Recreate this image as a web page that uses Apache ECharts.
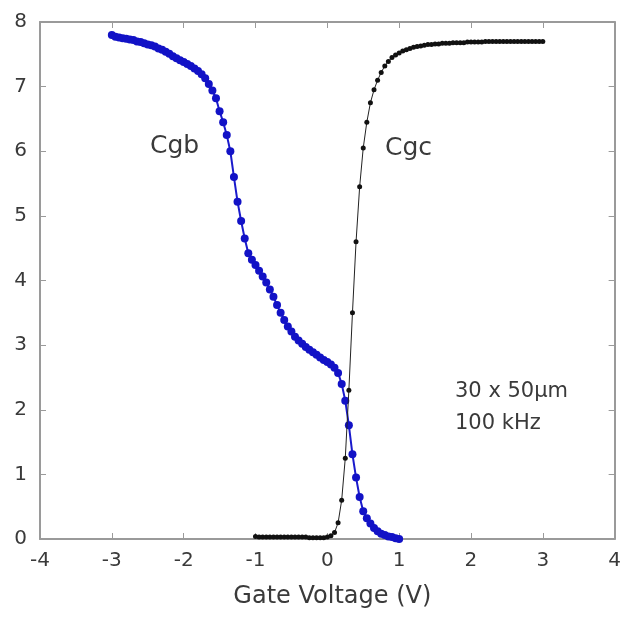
<!DOCTYPE html>
<html>
<head>
<meta charset="utf-8">
<script src="https://cdn.jsdelivr.net/npm/echarts@6/dist/echarts.min.js"></script>
<style>html,body{margin:0;padding:0;background:#fff;}#c{width:624px;height:617px;}</style>
</head>
<body>
<div id="c"></div>
<script>
var xTicks = [-4, -3, -2, -1, 0, 1, 2, 3, 4];
var yTicks = [0, 1, 2, 3, 4, 5, 6, 7, 8];
var cgbVoltage = [-3.00,-2.95,-2.90,-2.85,-2.80,-2.75,-2.70,-2.65,-2.60,-2.55,-2.50,-2.45,-2.40,-2.35,-2.30,-2.25,-2.20,-2.15,-2.10,-2.05,-2.00,-1.95,-1.90,-1.85,-1.80,-1.75,-1.70,-1.65,-1.60,-1.55,-1.50,-1.45,-1.40,-1.35,-1.30,-1.25,-1.20,-1.15,-1.10,-1.05,-1.00,-0.95,-0.90,-0.85,-0.80,-0.75,-0.70,-0.65,-0.60,-0.55,-0.50,-0.45,-0.40,-0.35,-0.30,-0.25,-0.20,-0.15,-0.10,-0.05,0.00,0.05,0.10,0.15,0.20,0.25,0.30,0.35,0.40,0.45,0.50,0.55,0.60,0.65,0.70,0.75,0.80,0.85,0.90,0.95,1.00];
var cgbValues = [7.80,7.77,7.76,7.75,7.74,7.73,7.72,7.70,7.69,7.67,7.65,7.64,7.62,7.59,7.57,7.54,7.51,7.47,7.44,7.41,7.38,7.35,7.32,7.28,7.24,7.19,7.13,7.04,6.94,6.82,6.62,6.45,6.25,6.00,5.60,5.22,4.92,4.65,4.42,4.32,4.24,4.15,4.06,3.97,3.86,3.75,3.62,3.50,3.39,3.29,3.21,3.13,3.07,3.02,2.97,2.93,2.89,2.85,2.81,2.77,2.74,2.70,2.65,2.57,2.40,2.14,1.76,1.31,0.95,0.65,0.43,0.32,0.24,0.17,0.12,0.08,0.06,0.04,0.03,0.01,0.00];
var cgcVoltage = [-1.00,-0.95,-0.90,-0.85,-0.80,-0.75,-0.70,-0.65,-0.60,-0.55,-0.50,-0.45,-0.40,-0.35,-0.30,-0.25,-0.20,-0.15,-0.10,-0.05,0.00,0.05,0.10,0.15,0.20,0.25,0.30,0.35,0.40,0.45,0.50,0.55,0.60,0.65,0.70,0.75,0.80,0.85,0.90,0.95,1.00,1.05,1.10,1.15,1.20,1.25,1.30,1.35,1.40,1.45,1.50,1.55,1.60,1.65,1.70,1.75,1.80,1.85,1.90,1.95,2.00,2.05,2.10,2.15,2.20,2.25,2.30,2.35,2.40,2.45,2.50,2.55,2.60,2.65,2.70,2.75,2.80,2.85,2.90,2.95,3.00];
var cgcValues = [0.04,0.03,0.03,0.03,0.03,0.03,0.03,0.03,0.03,0.03,0.03,0.03,0.03,0.03,0.03,0.02,0.02,0.02,0.02,0.02,0.03,0.05,0.10,0.25,0.60,1.25,2.30,3.50,4.60,5.45,6.05,6.45,6.75,6.95,7.10,7.22,7.32,7.39,7.45,7.49,7.52,7.55,7.57,7.59,7.61,7.62,7.63,7.64,7.65,7.65,7.66,7.66,7.67,7.67,7.67,7.68,7.68,7.68,7.68,7.69,7.69,7.69,7.69,7.69,7.70,7.70,7.70,7.70,7.70,7.70,7.70,7.70,7.70,7.70,7.70,7.70,7.70,7.70,7.70,7.70,7.70];

function pairs(xs, ys) { return xs.map(function (x, i) { return [x, ys[i]]; }); }

var FONT = 'DejaVu Sans, Liberation Sans, Arial, sans-serif';
var axisColor = '#9a9a9a';
var textColor = '#3a3a3a';
var labelFont = { color: textColor, fontSize: 20, fontFamily: FONT };

var chart = echarts.init(document.getElementById('c'), null, { renderer: 'canvas' });
chart.setOption({
  backgroundColor: '#fff',
  animation: false,
  grid: { left: 40, right: 9, top: 22, bottom: 78, containLabel: false },
  xAxis: [{
    type: 'value', min: xTicks[0], max: xTicks[xTicks.length - 1], interval: 1,
    position: 'bottom',
    name: 'Gate Voltage (V)', nameLocation: 'middle', nameGap: 46,
    nameTextStyle: { color: textColor, fontSize: 24, fontFamily: FONT, padding: [0, 0, 0, 10] },
    axisLine: { show: true, onZero: false, lineStyle: { color: axisColor, width: 2 } },
    axisTick: { show: true, inside: true, length: 6, lineStyle: { color: axisColor, width: 1 } },
    axisLabel: Object.assign({ margin: 12 }, labelFont),
    splitLine: { show: false }
  }, {
    type: 'value', min: xTicks[0], max: xTicks[xTicks.length - 1], interval: 1,
    position: 'top',
    axisLine: { show: true, onZero: false, lineStyle: { color: axisColor, width: 2 } },
    axisTick: { show: true, inside: true, length: 6, lineStyle: { color: axisColor, width: 1 } },
    axisLabel: { show: false },
    splitLine: { show: false }
  }],
  yAxis: [{
    type: 'value', min: yTicks[0], max: yTicks[yTicks.length - 1], interval: 1,
    position: 'left',
    axisLine: { show: true, onZero: false, lineStyle: { color: axisColor, width: 2 } },
    axisTick: { show: true, inside: true, length: 6, lineStyle: { color: axisColor, width: 1 } },
    axisLabel: Object.assign({ margin: 13 }, labelFont),
    splitLine: { show: false }
  }, {
    type: 'value', min: yTicks[0], max: yTicks[yTicks.length - 1], interval: 1,
    position: 'right',
    axisLine: { show: true, onZero: false, lineStyle: { color: axisColor, width: 2 } },
    axisTick: { show: true, inside: true, length: 6, lineStyle: { color: axisColor, width: 1 } },
    axisLabel: { show: false },
    splitLine: { show: false }
  }],
  series: [{
    name: 'Cgc', type: 'line', xAxisIndex: 0, yAxisIndex: 0,
    data: pairs(cgcVoltage, cgcValues),
    symbol: 'circle', symbolSize: 5, showSymbol: true,
    lineStyle: { color: '#222', width: 1 },
    itemStyle: { color: '#111' },
    z: 3
  }, {
    name: 'Cgb', type: 'line', xAxisIndex: 0, yAxisIndex: 0,
    data: pairs(cgbVoltage, cgbValues),
    symbol: 'circle', symbolSize: 8, showSymbol: true,
    lineStyle: { color: '#1a1acc', width: 2 },
    itemStyle: { color: '#1212c6' },
    z: 2
  }],
  graphic: [
    { type: 'text', left: 150, top: 134, style: { text: 'Cgb', fill: textColor, fontSize: 25, fontFamily: FONT } },
    { type: 'text', left: 385, top: 136, style: { text: 'Cgc', fill: textColor, fontSize: 25, fontFamily: FONT } },
    { type: 'text', left: 455, top: 381, style: { text: '30 x 50\u03bcm', fill: textColor, fontSize: 21, fontFamily: FONT } },
    { type: 'text', left: 455, top: 413, style: { text: '100 kHz', fill: textColor, fontSize: 21, fontFamily: FONT } }
  ]
});
</script>
</body>
</html>
